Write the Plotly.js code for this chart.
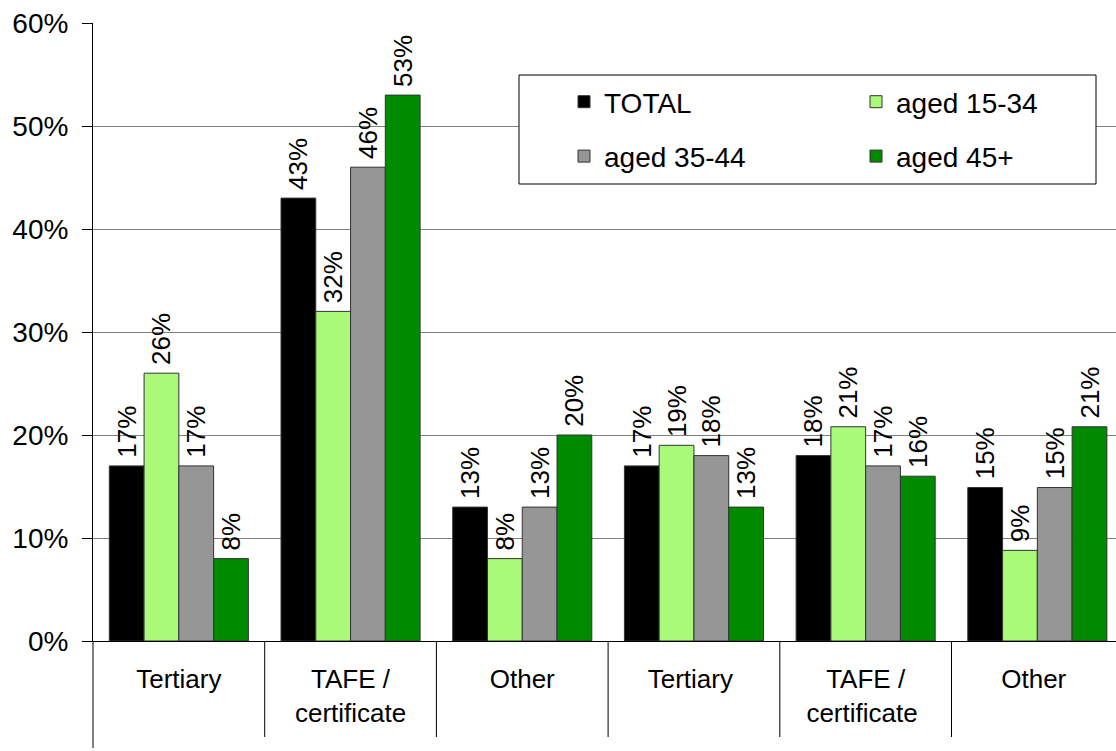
<!DOCTYPE html>
<html>
<head>
<meta charset="utf-8">
<script src="https://cdn.plot.ly/plotly-3.0.1.min.js"></script>
<style>html,body{margin:0;padding:0;background:#fff;}#chart{width:1116px;height:751px;}</style>
</head>
<body>
<div id="chart"></div>
<script>
// Data
const categories = ["Tertiary", "TAFE /<br>certificate", "Other", "Tertiary ", "TAFE /<br>certificate ", "Other "];
const seriesNames = ["TOTAL", "aged 15-34", "aged 35-44", "aged 45+"];
const totalValues = [0.17, 0.43, 0.13, 0.17, 0.18, 0.149];
const aged1534Values = [0.26, 0.32, 0.08, 0.19, 0.208, 0.088];
const aged3544Values = [0.17, 0.46, 0.13, 0.18, 0.17, 0.149];
const aged45Values = [0.08, 0.53, 0.20, 0.13, 0.16, 0.208];
const yTickVals = [0, 0.1, 0.2, 0.3, 0.4, 0.5, 0.6];
const yTickText = ["0%", "10%", "20%", "30%", "40%", "50%", "60%"];

const colors = ["#000000", "#a8fa78", "#969696", "#008a00"];
const legendIds = ["legend", "legend2", "legend", "legend2"];
const allValues = [totalValues, aged1534Values, aged3544Values, aged45Values];

const FONT = "Liberation Sans, Arial, sans-serif";

const traces = allValues.map((vals, i) => ({
  type: "bar",
  name: seriesNames[i],
  x: categories,
  y: vals,
  legend: legendIds[i],
  legendgroup: "g" + i,
  marker: {color: colors[i], line: {color: "#333333", width: 1}},
  texttemplate: "\u2009%{y:.0%}",
  textposition: "outside",
  textangle: -90,
  constraintext: "none",
  cliponaxis: false,
  textfont: {family: FONT, size: 26, color: "#000"},
  hoverinfo: "skip"
}));

// layout helpers (pixel -> paper)
const L = 93, R = 0, T = 23, B = 110, W = 1116, H = 751;
const pw = W - L - R, ph = H - T - B;
const px = p => (p - L) / pw;
const py = p => (H - B - p) / ph;
const catStep = 171.7;
const xRange = [-0.5, -0.5 + pw / catStep];

const shapes = [
  // legend box
  {type: "rect", xref: "paper", yref: "paper", x0: px(519), x1: px(1096), y0: py(184), y1: py(75),
   fillcolor: "#ffffff", line: {color: "#000", width: 1}, layer: "above"},
  // left axis extension
  {type: "line", xref: "paper", yref: "paper", x0: 0, x1: 0, y0: 0, y1: py(748), line: {color: "#000", width: 1}}
];
for (let k = 0; k < categories.length - 1; k++) {
  shapes.push({type: "line", xref: "x", yref: "paper", x0: k + 0.5, x1: k + 0.5, y0: 0, y1: py(737),
    line: {color: "#000", width: 1}});
}

const legendCommon = {
  xanchor: "left", yanchor: "top",
  bgcolor: "rgba(0,0,0,0)", borderwidth: 0,
  font: {family: FONT, size: 28, color: "#000"},
  tracegroupgap: 15, orientation: "v", traceorder: "grouped"
};

const layout = {
  width: W, height: H,
  margin: {l: L, r: R, t: T, b: B, pad: 0},
  paper_bgcolor: "#fff", plot_bgcolor: "#fff",
  barmode: "group",
  bargap: 0.19,
  bargroupgap: 0,
  font: {family: FONT, color: "#000"},
  showlegend: true,
  xaxis: {
    type: "category",
    range: xRange,
    showgrid: false,
    showline: true, linecolor: "#000", linewidth: 1,
    ticks: "",
    tickfont: {family: FONT, size: 26, color: "#000"},
    ticklabelstandoff: 15,
    fixedrange: true
  },
  yaxis: {
    range: [0, 0.6],
    tickvals: yTickVals,
    ticktext: yTickText,
    showgrid: true, gridcolor: "#808080", gridwidth: 1,
    showline: true, linecolor: "#000", linewidth: 1,
    ticks: "outside", ticklen: 10, tickcolor: "#000", tickwidth: 1,
    tickfont: {family: FONT, size: 28, color: "#000"},
    ticklabelstandoff: 8,
    zeroline: false,
    fixedrange: true
  },
  legend: Object.assign({x: px(564), y: py(77)}, legendCommon),
  legend2: Object.assign({x: px(856), y: py(77)}, legendCommon),
  shapes: shapes
};

Plotly.newPlot("chart", traces, layout, {staticPlot: true, displayModeBar: false});
</script>
</body>
</html>
